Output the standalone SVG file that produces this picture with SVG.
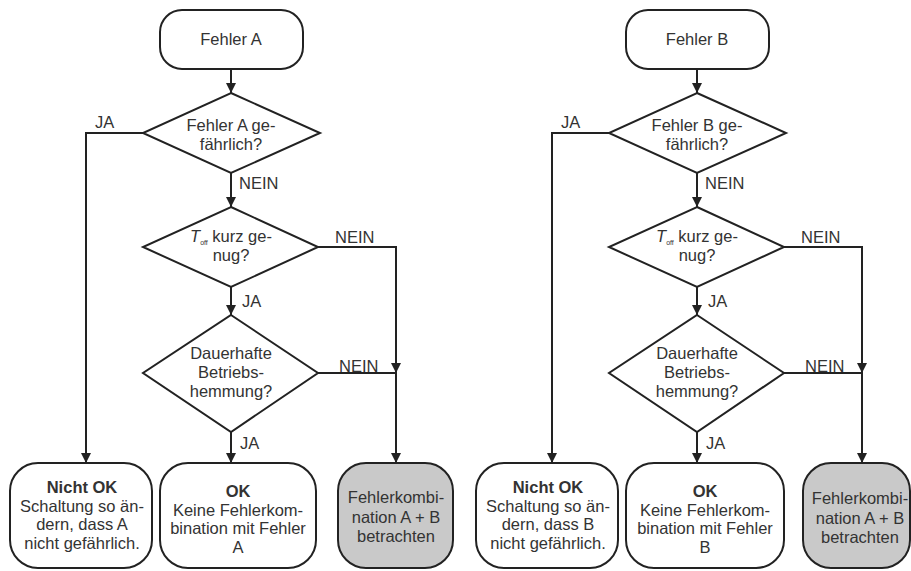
<svg xmlns="http://www.w3.org/2000/svg" width="911" height="571" viewBox="0 0 911 571">
<style>
text{font-family:"Liberation Sans",Arial,sans-serif;font-size:16.5px;fill:#333;text-anchor:middle}
.lbl{text-anchor:start}
.shape{fill:#fff;stroke:#222;stroke-width:2}
.gray{fill:#c9c9c9}
.con{fill:none;stroke:#222;stroke-width:2}
.b{font-weight:bold}
</style>
<defs>
<marker id="ah" viewBox="0 0 10 10" refX="10" refY="5" markerWidth="10" markerHeight="10" markerUnits="userSpaceOnUse" orient="auto">
<path d="M0,0 L10,5 L0,10 z" fill="#222"/>
</marker>
</defs>
<rect width="911" height="571" fill="#fff"/>

<g id="connectors">
<path class="con" d="M231,69 V93" marker-end="url(#ah)"/>
<path class="con" d="M231,173 V207" marker-end="url(#ah)"/>
<path class="con" d="M231,287 V315" marker-end="url(#ah)"/>
<path class="con" d="M231,432 V463" marker-end="url(#ah)"/>
<path class="con" d="M143,133 H86 V463" marker-end="url(#ah)"/>
<path class="con" d="M318,247 H396 V373" marker-end="url(#ah)"/>
<path class="con" d="M318,373 H396 V463" marker-end="url(#ah)"/>

<path class="con" d="M697,69 V93" marker-end="url(#ah)"/>
<path class="con" d="M697,173 V207" marker-end="url(#ah)"/>
<path class="con" d="M697,287 V315" marker-end="url(#ah)"/>
<path class="con" d="M697,432 V463" marker-end="url(#ah)"/>
<path class="con" d="M609,133 H552 V463" marker-end="url(#ah)"/>
<path class="con" d="M784,247 H862 V373" marker-end="url(#ah)"/>
<path class="con" d="M784,373 H862 V463" marker-end="url(#ah)"/>

<text class="lbl" x="95" y="128">JA</text>
<text class="lbl" x="239" y="189">NEIN</text>
<text class="lbl" x="335" y="243">NEIN</text>
<text class="lbl" x="242" y="307">JA</text>
<text class="lbl" x="339" y="372">NEIN</text>
<text class="lbl" x="240" y="449">JA</text>

<text class="lbl" x="561" y="128">JA</text>
<text class="lbl" x="705" y="189">NEIN</text>
<text class="lbl" x="801" y="243">NEIN</text>
<text class="lbl" x="708" y="307">JA</text>
<text class="lbl" x="805" y="372">NEIN</text>
<text class="lbl" x="706" y="449">JA</text>
</g>

<g id="startA">
<rect class="shape" x="160" y="10" width="143" height="59" rx="22"/>
<text x="231" y="45">Fehler A</text>
</g>
<g id="d1A">
<polygon class="shape" points="231,93 320,133 231,173 143,133"/>
<text x="231" y="131">Fehler A ge-</text>
<text x="231" y="150">fährlich?</text>
</g>
<g id="d2A">
<polygon class="shape" points="231,207 318,247 231,287 143,247"/>
<text x="231" y="242"><tspan font-style="italic">T</tspan><tspan font-size="7" dy="3">off</tspan><tspan dy="-3"> kurz ge-</tspan></text>
<text x="231" y="261">nug?</text>
</g>
<g id="d3A">
<polygon class="shape" points="231,315 318,373 231,432 143,373"/>
<text x="231" y="359">Dauerhafte</text>
<text x="231" y="378">Betriebs-</text>
<text x="231" y="397">hemmung?</text>
</g>
<g id="nokA">
<rect class="shape" x="10" y="463" width="142" height="105" rx="28"/>
<text class="b" x="82" y="493">Nicht OK</text>
<text x="82" y="512">Schaltung so än-</text>
<text x="82" y="530">dern, dass A</text>
<text x="82" y="548.5">nicht gefährlich.</text>
</g>
<g id="okA">
<rect class="shape" x="160" y="463" width="156" height="105" rx="28"/>
<text class="b" x="238" y="497">OK</text>
<text x="238" y="516">Keine Fehlerkom-</text>
<text x="238" y="534">bination mit Fehler</text>
<text x="238" y="553">A</text>
</g>
<g id="combA">
<rect class="shape gray" x="338" y="463" width="115" height="105" rx="28"/>
<text x="396" y="503">Fehlerkombi-</text>
<text x="396" y="523">nation A + B</text>
<text x="396" y="542">betrachten</text>
</g>

<g id="startB">
<rect class="shape" x="626" y="10" width="143" height="59" rx="22"/>
<text x="697" y="45">Fehler B</text>
</g>
<g id="d1B">
<polygon class="shape" points="697,93 786,133 697,173 609,133"/>
<text x="697" y="131">Fehler B ge-</text>
<text x="697" y="150">fährlich?</text>
</g>
<g id="d2B">
<polygon class="shape" points="697,207 784,247 697,287 609,247"/>
<text x="697" y="242"><tspan font-style="italic">T</tspan><tspan font-size="7" dy="3">off</tspan><tspan dy="-3"> kurz ge-</tspan></text>
<text x="697" y="261">nug?</text>
</g>
<g id="d3B">
<polygon class="shape" points="697,315 784,373 697,432 609,373"/>
<text x="697" y="359">Dauerhafte</text>
<text x="697" y="378">Betriebs-</text>
<text x="697" y="397">hemmung?</text>
</g>
<g id="nokB">
<rect class="shape" x="476" y="463" width="142" height="105" rx="28"/>
<text class="b" x="548" y="493">Nicht OK</text>
<text x="548" y="512">Schaltung so än-</text>
<text x="548" y="530">dern, dass B</text>
<text x="548" y="548.5">nicht gefährlich.</text>
</g>
<g id="okB">
<rect class="shape" x="626" y="463" width="158" height="105" rx="28"/>
<text class="b" x="705" y="497">OK</text>
<text x="705" y="516">Keine Fehlerkom-</text>
<text x="705" y="534">bination mit Fehler</text>
<text x="705" y="553">B</text>
</g>
<g id="combB">
<rect class="shape gray" x="803" y="463" width="107" height="105" rx="28"/>
<text x="860" y="504">Fehlerkombi-</text>
<text x="860" y="524">nation A + B</text>
<text x="860" y="543">betrachten</text>
</g>
</svg>
